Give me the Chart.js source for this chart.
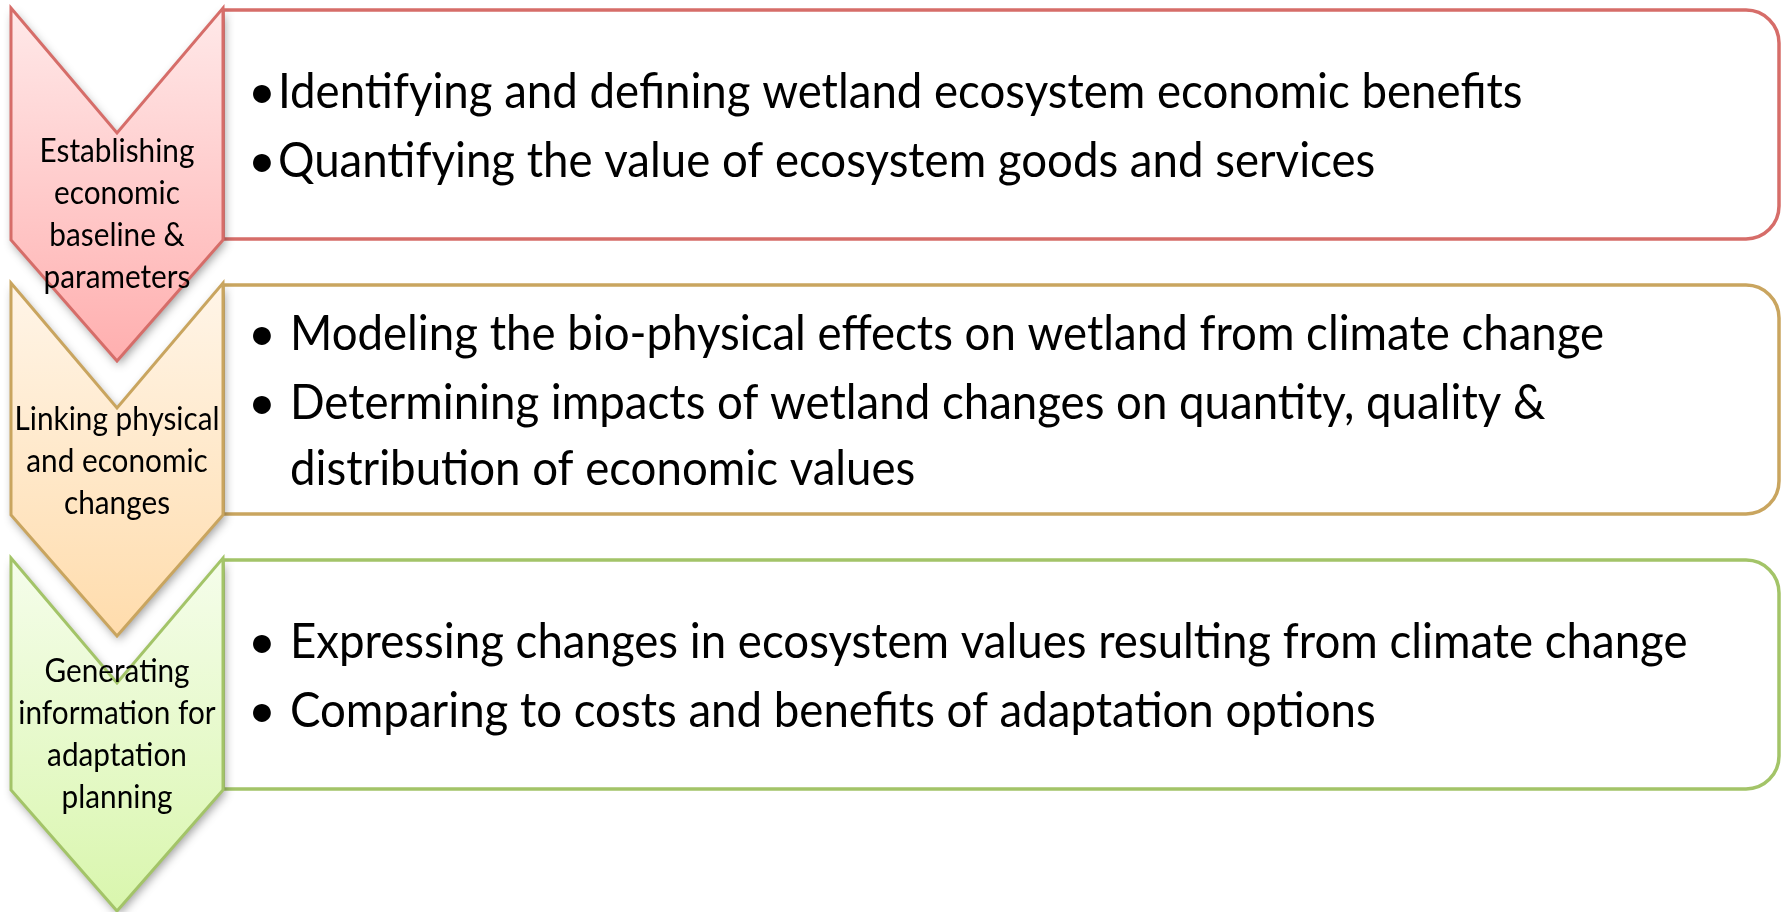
<!DOCTYPE html>
<html>
<head>
<meta charset="utf-8">
<script src="https://cdn.jsdelivr.net/npm/chart.js@4.4.1/dist/chart.umd.min.js"></script>
<style>
html,body{margin:0;padding:0;background:#fff;}
#wrap{width:1781px;height:912px;position:relative;}
</style>
</head>
<body>
<div id="wrap"><canvas id="c"></canvas></div>
<script>
// ---- data ----
const stageLabels = [
  ["Establishing", "economic", "baseline &", "parameters"],
  ["Linking physical", "and economic", "changes"],
  ["Generating", "information for", "adaptation", "planning"]
];
const stage1Bullets = [
  ["Identifying and defining wetland ecosystem economic benefits"],
  ["Quantifying the value of ecosystem goods and services"]
];
const stage2Bullets = [
  ["Modeling the bio-physical effects on wetland from climate change"],
  ["Determining impacts of wetland changes on quantity, quality &", "distribution of economic values"]
];
const stage3Bullets = [
  ["Expressing changes in ecosystem values resulting from climate change"],
  ["Comparing to costs and benefits of adaptation options"]
];
const stageBullets = [stage1Bullets, stage2Bullets, stage3Bullets];
const bulletSpace = [false, true, true];

// ---- styles / layout ----
const strokeColors = ["#D66D69", "#C9A55F", "#A3C468"];
const fillTop = ["#FFE9E9", "#FFF5E8", "#F5FDEB"];
const fillBottom = ["#FFAFAF", "#FFDCAC", "#D9F6AD"];
const L = {
  chevLeft: 11, chevRight: 223, top0: 8, step: 275,
  notch: 125, straight: 232, tip: 353,
  boxRight: 1779, boxH: 229, radius: 33,
  labelMid: [225, 472, 745], labelStep: 42, labelX: 117,
  bulletX: 248, textX0: 278, textX1: 290,
  lineStep: 66, paraStep: 69, textFont: 48, labelFont: 32, sx: 0.95, lsx: 0.93,
  textOffset: 17.5
};
const FONT = "Lato, 'Open Sans', sans-serif";

const diagramPlugin = {
  id: 'diagram',
  afterDatasetsDraw(chart) {
    const ctx = chart.ctx;
    const xs = chart.scales.x, ys = chart.scales.y;
    const X = v => xs.getPixelForValue(v);
    const Y = v => ys.getPixelForValue(v);

    stageLabels.forEach((_, i) => {
      const top = L.top0 + i * L.step;
      const bx = X(L.chevRight), by = Y(top + 2), bw = X(L.boxRight) - bx, bh = Y(top + 2 + L.boxH) - by;
      ctx.save();
      ctx.beginPath();
      ctx.roundRect(bx, by, bw, bh, [0, L.radius, L.radius, 0]);
      ctx.fillStyle = "#fff";
      ctx.fill();
      ctx.lineWidth = 3.5;
      ctx.strokeStyle = strokeColors[i];
      ctx.stroke();
      ctx.restore();
    });

    stageLabels.forEach((_, i) => {
      const top = L.top0 + i * L.step;
      const cx = (L.chevLeft + L.chevRight) / 2;
      const path = () => {
        ctx.beginPath();
        ctx.moveTo(X(L.chevLeft), Y(top));
        ctx.lineTo(X(cx), Y(top + L.notch));
        ctx.lineTo(X(L.chevRight), Y(top));
        ctx.lineTo(X(L.chevRight), Y(top + L.straight));
        ctx.lineTo(X(cx), Y(top + L.tip));
        ctx.lineTo(X(L.chevLeft), Y(top + L.straight));
        ctx.closePath();
      };
      const g = ctx.createLinearGradient(0, Y(top), 0, Y(top + L.tip));
      g.addColorStop(0, fillTop[i]);
      g.addColorStop(1, fillBottom[i]);
      ctx.save();
      path();
      ctx.shadowColor = "rgba(0,0,0,0.38)";
      ctx.shadowBlur = 10;
      ctx.shadowOffsetX = 2;
      ctx.shadowOffsetY = 4;
      ctx.fillStyle = g;
      ctx.fill();
      ctx.restore();
      ctx.save();
      path();
      ctx.lineWidth = 3;
      ctx.lineJoin = "miter";
      ctx.strokeStyle = strokeColors[i];
      ctx.stroke();
      ctx.restore();
    });

    ctx.save();
    ctx.fillStyle = "#000";
    ctx.textBaseline = "alphabetic";
    stageLabels.forEach((lines, i) => {
      ctx.font = L.labelFont + "px " + FONT;
      ctx.textAlign = "center";
      const n = lines.length;
      lines.forEach((t, k) => {
        const y = L.labelMid[i] + (k - (n - 1) / 2) * L.labelStep;
        ctx.save();
        ctx.translate(X(L.labelX), Y(y));
        ctx.scale(L.lsx, 1);
        ctx.fillText(t, 0, 0);
        ctx.restore();
      });
      const top = L.top0 + i * L.step;
      const center = top + 2 + L.boxH / 2;
      const offs = [];
      let o = 0;
      stageBullets[i].forEach((para, p) => {
        para.forEach((t, k) => {
          if (p > 0 || k > 0) o += (k === 0 ? L.paraStep : L.lineStep);
          offs.push({t, o, first: k === 0});
        });
      });
      const mid = o / 2;
      ctx.font = L.textFont + "px " + FONT;
      ctx.textAlign = "left";
      offs.forEach(item => {
        const y = center + L.textOffset - mid + item.o;
        if (item.first) {
          ctx.save();
          ctx.translate(X(L.bulletX), Y(y));
          ctx.fillText("\u2022", 0, 0);
          ctx.restore();
        }
        ctx.save();
        ctx.translate(X(bulletSpace[i] ? L.textX1 : L.textX0), Y(y));
        ctx.scale(L.sx, 1);
        ctx.fillText(item.t, 0, 0);
        ctx.restore();
      });
    });
    ctx.restore();
  }
};

new Chart(document.getElementById('c'), {
  type: 'scatter',
  data: {
    datasets: [{
      data: stageLabels.map((_, i) => ({x: L.labelX, y: L.labelMid[i]})),
      pointRadius: 0
    }]
  },
  options: {
    responsive: true,
    maintainAspectRatio: false,
    animation: false,
    events: [],
    layout: {padding: 0},
    scales: {
      x: {type: 'linear', min: 0, max: 1781, display: false},
      y: {type: 'linear', min: 0, max: 912, reverse: true, display: false}
    },
    plugins: {legend: {display: false}, tooltip: {enabled: false}}
  },
  plugins: [diagramPlugin]
});
</script>
</body>
</html>
